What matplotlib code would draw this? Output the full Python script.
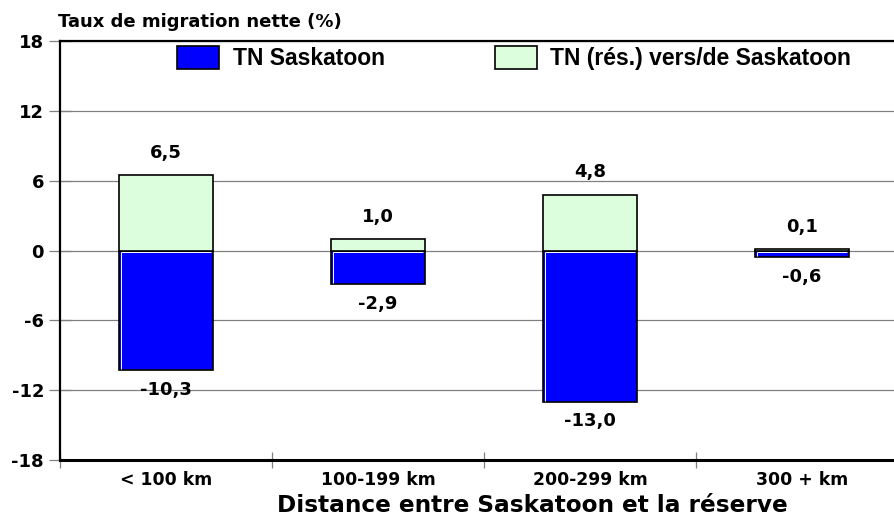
import matplotlib
matplotlib.use('Agg')
import matplotlib.pyplot as plt
import matplotlib.transforms as mtransforms
from matplotlib.lines import Line2D
from matplotlib.patches import Patch
import numpy as np

categories = ['< 100 km', '100-199 km', '200-299 km', '300 + km']
tn_saskatoon = [-10.3, -2.9, -13.0, -0.6]
tn_reserve = [6.5, 1.0, 4.8, 0.1]
series_names = ['TN Saskatoon', 'TN (rés.) vers/de Saskatoon']
y_ticks = [-18, -12, -6, 0, 6, 12, 18]
y_title = 'Taux de migration nette (%)'
x_title = 'Distance entre Saskatoon et la réserve'

BLUE = '#0000FF'
GREEN = '#DDFEDD'
GRAY = '#808080'
DJ = 'DejaVu Sans'
LIB = 'Liberation Sans'


def fmt(v):
    return f'{v:.1f}'.replace('.', ',')


W, H = 895, 516
fig = plt.figure(figsize=(W / 100, H / 100), dpi=100)
ax = fig.add_axes([60 / W, (H - 460) / H, 848 / W, 419 / H])

x = np.arange(len(categories)) + 0.5
bw = 0.44
ax.set_xlim(0, len(categories))
ax.set_ylim(y_ticks[0], y_ticks[-1])

blue_bars = ax.bar(x, tn_saskatoon, bw, color=BLUE, edgecolor='black', linewidth=1.2, zorder=3)
ax.bar(x, tn_reserve, bw, color=GREEN, edgecolor='black', linewidth=1.2, zorder=3)

# thin white inner highlight on the top and left edges of the blue bars
ident = mtransforms.IdentityTransform()
for p in blue_bars.patches:
    (X0, Ya), (X1, Yb) = ax.transData.transform(
        [(p.get_x(), p.get_y()), (p.get_x() + p.get_width(), p.get_y() + p.get_height())])
    Ytop, Ybot = max(Ya, Yb), min(Ya, Yb)
    if Ytop - Ybot < 5:
        continue
    ax.add_line(Line2D([X0 + 1.8, X1 - 1.2], [Ytop - 1.8, Ytop - 1.8], color='white', lw=0.7,
                       transform=ident, zorder=4, solid_capstyle='butt'))
    ax.add_line(Line2D([X0 + 1.8, X0 + 1.8], [Ytop - 1.8, Ybot + 1.2], color='white', lw=0.7,
                       transform=ident, zorder=4, solid_capstyle='butt'))

for xi, v in zip(x, tn_reserve):
    ax.annotate(fmt(v), (xi, v), xytext=(0, 16), textcoords='offset points',
                ha='center', va='center', fontsize=13, fontweight='bold', family=DJ)
for xi, v in zip(x, tn_saskatoon):
    ax.annotate(fmt(v), (xi, v), xytext=(0, -14), textcoords='offset points',
                ha='center', va='center', fontsize=13, fontweight='bold', family=DJ)

ax.set_yticks(y_ticks)
ax.set_yticklabels([str(t) for t in y_ticks], fontsize=13, fontweight='bold', family=DJ)
ax.set_xticks(np.arange(len(categories) + 1))
ax.set_xticklabels([])
ax.set_xticks(x, minor=True)
ax.set_xticklabels(categories, minor=True, fontsize=12.4, fontweight='bold', family=DJ)
ax.tick_params(axis='x', which='minor', length=0, pad=8)
ax.tick_params(axis='x', which='major', direction='inout', length=11, width=0.9, color=GRAY)
ax.tick_params(axis='y', direction='inout', length=16, width=0.9, color=GRAY, pad=3.5)

ax.set_axisbelow(True)
ax.yaxis.grid(True, color=GRAY, linewidth=0.9)
ax.spines['right'].set_visible(False)
ax.spines['left'].set_linewidth(1.6)
ax.spines['top'].set_linewidth(1.6)
ax.spines['bottom'].set_linewidth(2.2)
for s in ax.spines.values():
    s.set_color('black')

fig.text(58 / W, (H - 27) / H, y_title, fontsize=13, fontweight='bold', family=DJ,
         ha='left', va='baseline')
fig.text(532 / W, (H - 512) / H, x_title, fontsize=16.7, fontweight='bold', family=DJ,
         ha='center', va='baseline')

handles = [Patch(facecolor=BLUE, edgecolor='black', linewidth=1.2),
           Patch(facecolor=GREEN, edgecolor='black', linewidth=1.2)]
leg = fig.legend(handles, series_names, loc='upper left', bbox_to_anchor=(177 / W, (H - 46) / H),
                 ncol=2, frameon=False, prop={'family': LIB, 'weight': 'bold', 'size': 16.5},
                 handlelength=1.83, handleheight=1.14, handletextpad=0.6, columnspacing=4.8,
                 borderpad=0, borderaxespad=0)

fig.savefig('out.png', dpi=100)
